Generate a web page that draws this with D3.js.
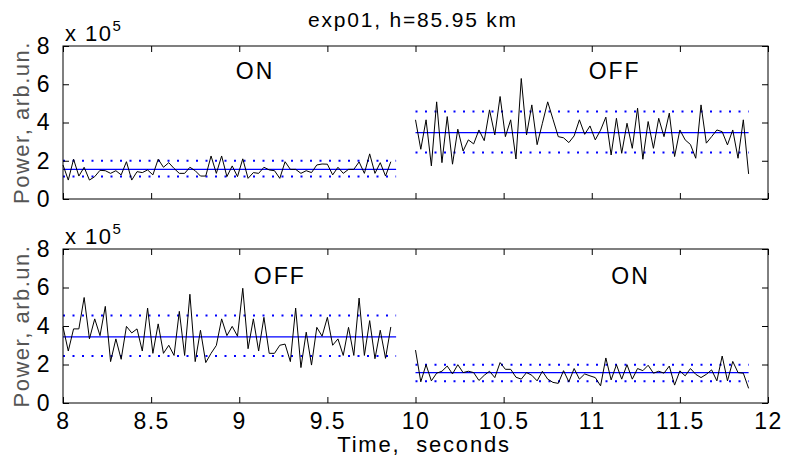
<!DOCTYPE html>
<html>
<head>
<meta charset="utf-8">
<script src="https://cdn.jsdelivr.net/npm/d3@7"></script>
<style>
  body { margin: 0; background: #fff; }
  text { font-family: "Liberation Sans Narrow", "Liberation Sans", Arial, sans-serif; }
</style>
</head>
<body>
<div id="chart"></div>
<script>
// Time axis: samples every 0.03 s, starting at 8 s (first half) and 10 s (second half)
const dt = 0.03;
const startFirst = 8.0;
const startSecond = 10.0;
const xTicks = [8, 8.5, 9, 9.5, 10, 10.5, 11, 11.5, 12];
const yTicks = [0, 2, 4, 6, 8];

// Top panel (x 10^5): heater ON, then OFF
const topOnPower = [1.78, 0.99, 2.08, 1.2, 1.66, 0.99, 1.17, 1.5, 1.48, 1.34, 1.48, 1.26, 1.95, 0.99, 1.43, 1.38,
  1.52, 1.26, 2.08, 1.66, 1.9, 1.6, 1.34, 1.34, 1.66, 1.48, 1.2, 1.2, 2.25, 1.34, 2.25, 1.17, 1.73, 1.17, 2.1,
  1.08, 1.38, 1.34, 1.66, 1.52, 1.48, 1.08, 1.95, 1.55, 1.55, 1.34, 1.48, 1.38, 1.78, 1.83, 1.82, 1.26, 1.66,
  1.34, 1.55, 1.55, 1.94, 1.34, 2.36, 1.34, 1.9, 1.2, 1.95];
const topOffPower = [4.14, 2.6, 4.14, 1.73, 5.08, 1.9, 4.31, 1.82, 3.65, 2.51, 3.09, 2.88, 3.61, 3.05, 4.66, 3.35,
  5.36, 3.26, 4.14, 2.09, 6.3, 3.35, 4.92, 2.84, 3.96, 5.08, 4.17, 3.26, 3.2, 2.95, 3.3, 4.14, 3.38, 3.82, 3.09,
  3.6, 4.28, 2.3, 4.22, 2.39, 3.96, 2.65, 4.75, 2.08, 4.05, 2.65, 4.22, 3.26, 4.49, 2.22, 3.61, 3.09, 2.85, 2.13,
  4.92, 2.92, 3.26, 3.61, 3.52, 2.83, 3.61, 2.13, 4.14, 1.31];

// Bottom panel (x 10^5): heater OFF, then ON
const bottomOffPower = [3.95, 2.7, 3.85, 3.85, 5.48, 3.33, 4.37, 3.5, 5.02, 2.15, 3.33, 2.27, 3.98, 3.64, 3.85, 2.7,
  4.93, 2.58, 4.11, 2.58, 3.0, 2.47, 4.76, 2.47, 5.65, 2.15, 3.78, 2.1, 2.58, 2.99, 4.37, 3.5, 3.98, 3.47, 5.96,
  2.82, 4.37, 2.7, 4.45, 2.58, 2.58, 3.0, 3.06, 2.15, 4.93, 1.84, 3.68, 1.97, 3.93, 3.47, 4.45, 3.0, 3.33, 2.47,
  3.93, 2.47, 5.45, 2.47, 4.28, 2.3, 3.78, 2.32, 3.95];
const bottomOnPower = [2.75, 1.1, 1.99, 1.15, 1.55, 1.65, 1.92, 1.51, 1.99, 1.58, 1.65, 1.58, 1.17, 1.44, 1.65, 1.32,
  2.1, 1.75, 1.75, 1.34, 1.24, 1.58, 1.44, 1.15, 1.65, 1.24, 1.07, 1.02, 1.68, 1.1, 1.79, 1.24, 1.51, 1.41, 1.32,
  0.89, 2.34, 1.2, 1.99, 1.24, 1.99, 1.24, 1.79, 1.68, 1.96, 1.55, 1.65, 1.55, 1.92, 0.93, 1.67, 1.41, 1.79, 1.49,
  1.32, 1.49, 1.72, 1.15, 2.44, 1.15, 2.16, 1.58, 1.55, 0.76];

// Mean and mean +/- std levels for each segment: [lower, mean, upper]
const topOnLevels = [1.17, 1.55, 2.0];
const topOffLevels = [2.43, 3.47, 4.57];
const bottomOffLevels = [2.44, 3.44, 4.55];
const bottomOnLevels = [1.13, 1.58, 1.99];

const topLabels = ["ON", "OFF"];
const bottomLabels = ["OFF", "ON"];

const width = 787;
const height = 462;

const svg = d3.select("#chart")
  .append("svg")
  .attr("width", width)
  .attr("height", height);

const x = d3.scaleLinear().domain([8, 12]).range([63, 768]);

// helper to turn a value list into points on the time grid
const toPoints = (values, t0) => values.map((v, i) => ({ t: t0 + i * dt, v: v }));

const panels = [
  { top: 46, bottom: 199, first: topOnPower, second: topOffPower,
    firstLevels: topOnLevels, secondLevels: topOffLevels, labels: topLabels,
    labelX: [9.09, 11.13], labelY: 6.6, showX: false },
  { top: 249, bottom: 403, first: bottomOffPower, second: bottomOnPower,
    firstLevels: bottomOffLevels, secondLevels: bottomOnLevels, labels: bottomLabels,
    labelX: [9.23, 11.22], labelY: 6.5, showX: true }
];

panels.forEach(p => {
  const y = d3.scaleLinear().domain([0, 8]).range([p.bottom, p.top]);
  const g = svg.append("g");

  const line = d3.line().x(d => x(d.t)).y(d => y(d.v));

  // mean +/- std dotted, mean solid
  [[p.firstLevels, startFirst], [p.secondLevels, startSecond]].forEach(([lev, t0]) => {
    const t1 = t0 + 63 * dt;
    g.selectAll(null)
      .data([lev[0], lev[2]])
      .join("line")
      .attr("x1", x(t0)).attr("x2", x(t1))
      .attr("y1", d => y(d)).attr("y2", d => y(d))
      .attr("stroke", "#0000ff")
      .attr("stroke-width", 2)
      .attr("stroke-dasharray", "2,7.5");
    g.append("line")
      .attr("x1", x(t0)).attr("x2", x(t1))
      .attr("y1", y(lev[1])).attr("y2", y(lev[1]))
      .attr("stroke", "#0000ff")
      .attr("stroke-width", 1.2);
  });

  // power traces
  g.selectAll(null)
    .data([toPoints(p.first, startFirst), toPoints(p.second, startSecond)])
    .join("path")
    .attr("d", line)
    .attr("fill", "none")
    .attr("stroke", "#000")
    .attr("stroke-width", 1);

  // axes, ticks pointing inward on all sides
  const left = g.append("g")
    .attr("transform", `translate(${x(8)},0)`)
    .call(d3.axisLeft(y).tickValues(yTicks).tickSizeInner(-6).tickSizeOuter(0).tickPadding(12));
  g.append("g")
    .attr("transform", `translate(${x(12)},0)`)
    .call(d3.axisRight(y).tickValues(yTicks).tickSizeInner(-6).tickSizeOuter(0).tickFormat(""));
  g.append("g")
    .attr("transform", `translate(0,${p.top})`)
    .call(d3.axisTop(x).tickValues(xTicks).tickSizeInner(-6).tickSizeOuter(0).tickFormat(""));
  const bottomAxis = g.append("g")
    .attr("transform", `translate(0,${p.bottom})`)
    .call(d3.axisBottom(x).tickValues(xTicks).tickSizeInner(-6).tickSizeOuter(0).tickPadding(10)
      .tickFormat(p.showX ? d3.format("") : ""));

  g.selectAll(".domain").remove();
  g.selectAll(".tick line").attr("stroke", "#000");
  [left, bottomAxis].forEach(a => a.selectAll("text")
    .attr("font-family", "'Liberation Sans Narrow', 'Liberation Sans', sans-serif")
    .attr("font-size", 23)
    .attr("letter-spacing", "1.5px")
    .attr("fill", "#000"));

  // frame
  g.append("rect")
    .attr("x", x(8)).attr("y", p.top)
    .attr("width", x(12) - x(8)).attr("height", p.bottom - p.top)
    .attr("fill", "none")
    .attr("stroke", "#000")
    .attr("stroke-width", 1);

  // ON / OFF annotations
  g.selectAll(null)
    .data(p.labels)
    .join("text")
    .attr("x", (d, i) => x(p.labelX[i]))
    .attr("y", y(p.labelY))
    .attr("text-anchor", "middle")
    .attr("dominant-baseline", "middle")
    .attr("font-size", 23)
    .attr("letter-spacing", "2px")
    .text(d => d);

  // exponent label
  const exp = g.append("text")
    .attr("x", x(8) + 2)
    .attr("y", p.top - 5)
    .attr("font-size", 22)
    .attr("letter-spacing", "1.5px");
  exp.append("tspan").text("x 10");
  exp.append("tspan").attr("dy", -10).attr("font-size", 15).text("5");

  // y label
  g.append("text")
    .attr("transform", `translate(23,${(p.top + p.bottom) / 2}) rotate(-90)`)
    .attr("text-anchor", "middle")
    .attr("dominant-baseline", "middle")
    .attr("font-size", 22)
    .attr("letter-spacing", "1.5px")
    .attr("fill", "#555")
    .text("Power, arb.un.");
});

// title
svg.append("text")
  .attr("x", 413)
  .attr("y", 27)
  .attr("text-anchor", "middle")
  .attr("font-size", 21)
  .attr("letter-spacing", "1.8px")
  .text("exp01, h=85.95 km");

// x axis label
svg.append("text")
  .attr("x", 424)
  .attr("y", 452)
  .attr("text-anchor", "middle")
  .attr("font-size", 22)
  .attr("letter-spacing", "1.8px")
  .style("white-space", "pre")
  .text("Time,  seconds");
</script>
</body>
</html>
